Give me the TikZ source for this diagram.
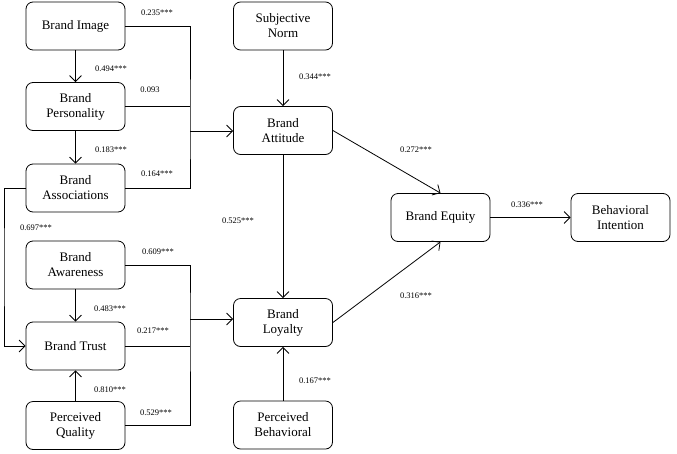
\documentclass[tikz,border=0pt]{standalone}
\usepackage{fontspec}
\setmainfont{Liberation Serif}
\newfontfamily\diagfont{Liberation Serif}
\usetikzlibrary{arrows.meta, positioning}
\tikzset{
  box/.style={draw, rounded corners=7pt, align=center, font=\diagfont\fontsize{13}{15}\selectfont,
              minimum width=99pt, minimum height=48pt, inner sep=2pt, line width=0.8pt},
  flow/.style={-{Straight Barb[length=6pt,width=12pt]}, line width=0.8pt},
  link/.style={line width=0.8pt},
  coef/.style={font=\diagfont\fontsize{8.5}{10}\selectfont, inner sep=1pt},
}
\begin{document}
\begin{tikzpicture}[x=1pt,y=-1pt]
\useasboundingbox (0,0) rectangle (677,453);
% left column
\node[box] (img) at (75.5,26) {Brand Image};
\node[box] (pers) at (75.5,106.5) {Brand\\Personality};
\node[box] (assoc) at (75.5,188) {Brand\\Associations};
\node[box] (aware) at (75.5,265) {Brand\\Awareness};
\node[box] (trust) at (75.5,346) {Brand Trust};
\node[box] (qual) at (75.5,425.5) {Perceived\\Quality};
% middle and right
\node[box] (norm) at (283,26) {Subjective\\Norm};
\node[box] (att) at (283,130.5) {Brand\\Attitude};
\node[box] (loy) at (283,322.5) {Brand\\Loyalty};
\node[box] (pbc) at (283,425) {Perceived\\Behavioral};
\node[box] (equity) at (440.5,217.5) {Brand Equity};
\node[box] (intent) at (620.5,217.5) {Behavioral\\Intention};
\coordinate (j1) at (190,131);
\coordinate (j2) at (190,319);
\coordinate (fb) at (4,267);
% connectors
\draw[flow] (img) -- (pers);
\draw[flow] (pers) -- (assoc);
\draw[link] (img.east) -| (j1) -- (j1 |- assoc.east) -- (assoc.east);
\draw[link] (pers.east) -- (pers.east -| j1);
\draw[flow] (j1) -- (j1 -| att.west);
\draw[flow] (assoc.west) -| (fb) |- (trust.west);
\draw[flow] (aware) -- (trust);
\draw[flow] (qual) -- (trust);
\draw[link] (aware.east) -| (j2) -- (j2 |- qual.east) -- (qual.east);
\draw[link] (trust.east) -- (trust.east -| j2);
\draw[flow] (j2) -- (j2 -| loy.west);
\draw[flow] (norm) -- (att);
\draw[flow] (att) -- (loy);
\draw[flow] (pbc) -- (loy);
\draw[flow] (att.east) -- (equity.north);
\draw[flow] (loy.east) -- (equity.south);
\draw[flow] (equity) -- (intent);
% coefficients
\node[coef] (c-img) at (157,13) {0.235***};
\node[coef] (c-imgpers) at (111,69) {0.494***};
\node[coef] (c-pers) at (150,90) {0.093};
\node[coef] (c-persassoc) at (111,150) {0.183***};
\node[coef] (c-assoc) at (157,174) {0.164***};
\node[coef] (c-fb) at (36,228) {0.697***};
\node[coef] (c-aware) at (158,252) {0.609***};
\node[coef] (c-awaretrust) at (110,309) {0.483***};
\node[coef] (c-trust) at (153,331) {0.217***};
\node[coef] (c-qualtrust) at (110,390) {0.810***};
\node[coef] (c-qual) at (156,413) {0.529***};
\node[coef] (c-norm) at (315,77) {0.344***};
\node[coef] (c-attloy) at (238,221) {0.525***};
\node[coef] (c-pbc) at (315,381) {0.167***};
\node[coef] (c-att) at (416,150) {0.272***};
\node[coef] (c-loy) at (416,296) {0.316***};
\node[coef] (c-equity) at (527,205) {0.336***};
\end{tikzpicture}
\end{document}
